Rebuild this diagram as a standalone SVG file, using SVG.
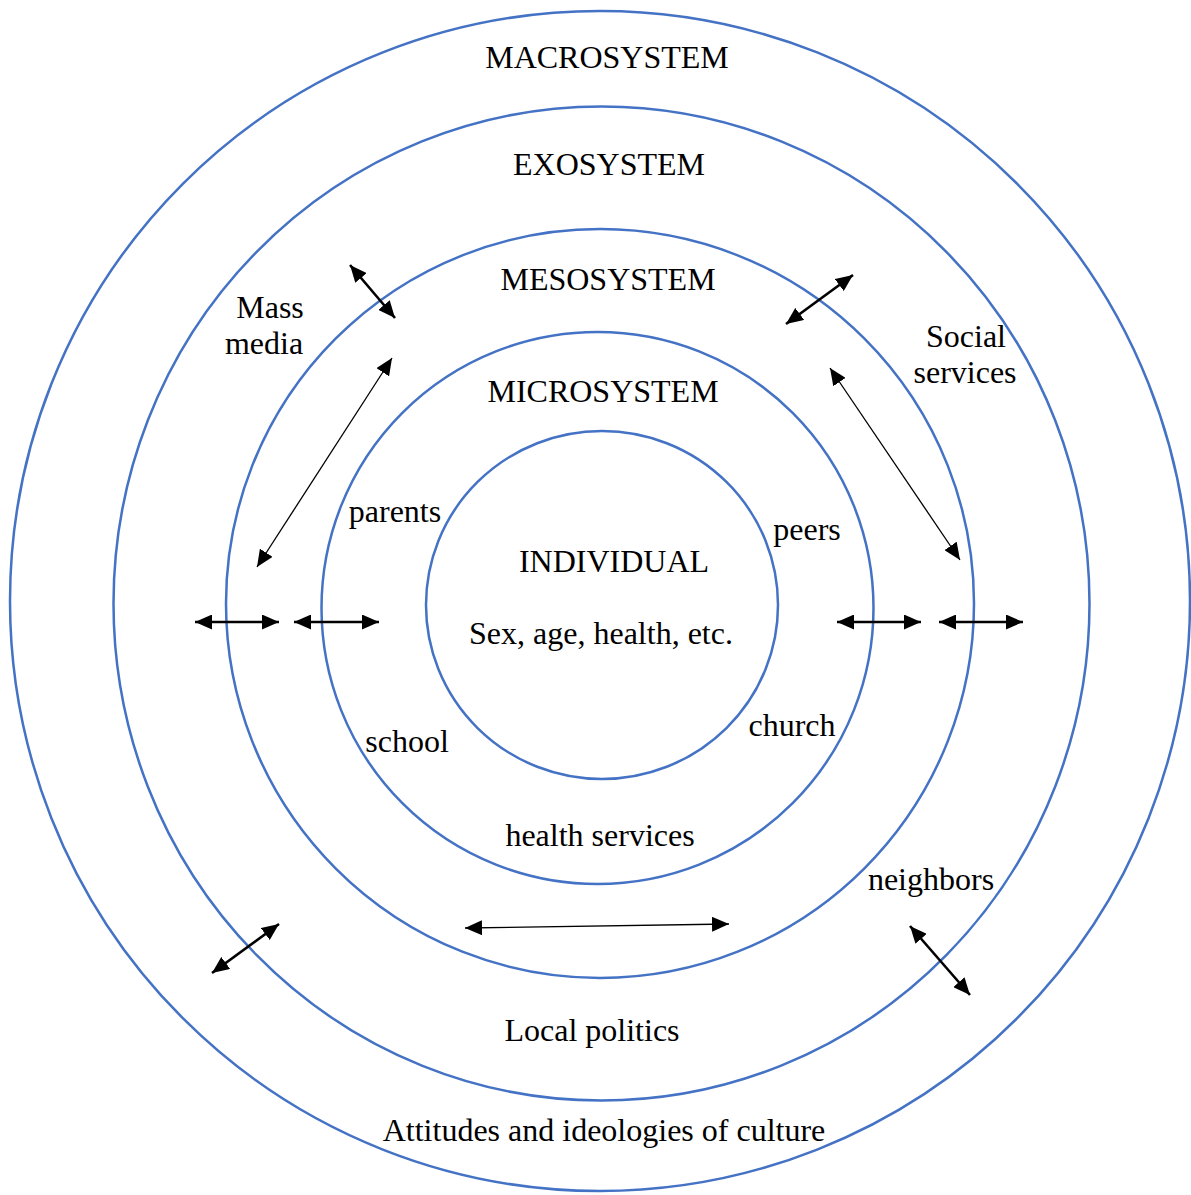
<svg xmlns="http://www.w3.org/2000/svg" width="1191" height="1195" viewBox="0 0 1191 1195">
<style>
.ring{fill:none;stroke:#4472C4;stroke-width:2.5}
text{font-family:"Liberation Serif","Times New Roman",serif;font-size:32px;fill:#000;text-anchor:middle}
.thick{stroke:#000;stroke-width:2.6;fill:none}
.thin{stroke:#000;stroke-width:1.3;fill:none}
</style>
<defs>
<marker id="ah" viewBox="0 0 17 15" refX="17" refY="7.5" markerWidth="17" markerHeight="15" markerUnits="userSpaceOnUse" orient="auto-start-reverse">
<path d="M0,0 L17,7.5 L0,15 z" fill="#000"/>
</marker>
</defs>
<rect width="1191" height="1195" fill="#fff"/>
<g id="macrosystem">
<ellipse class="ring" cx="600" cy="601" rx="590" ry="590"/>
<text x="607" y="68">MACROSYSTEM</text>
<text x="604" y="1141">Attitudes and ideologies of culture</text>
</g>
<g id="exosystem">
<ellipse class="ring" cx="601.5" cy="603.5" rx="488" ry="497"/>
<text x="609" y="175">EXOSYSTEM</text>
<text x="270" y="318">Mass</text>
<text x="264" y="354">media</text>
<text x="966" y="347">Social</text>
<text x="965" y="383">services</text>
<text x="592" y="1041">Local politics</text>
</g>
<g id="mesosystem">
<ellipse class="ring" cx="600" cy="603.5" rx="374" ry="374.5"/>
<text x="608" y="290">MESOSYSTEM</text>
<text x="931" y="890">neighbors</text>
</g>
<g id="microsystem">
<ellipse class="ring" cx="597.5" cy="608" rx="276" ry="276"/>
<text x="603" y="402">MICROSYSTEM</text>
<text x="395" y="522">parents</text>
<text x="807" y="540">peers</text>
<text x="407" y="752">school</text>
<text x="792" y="736">church</text>
<text x="600" y="846">health services</text>
</g>
<g id="individual">
<ellipse class="ring" cx="602" cy="605" rx="176" ry="174"/>
<text x="614" y="572">INDIVIDUAL</text>
<text x="601" y="644">Sex, age, health, etc.</text>
</g>
<g id="connectors">
<line class="thick" x1="195" y1="622" x2="279" y2="622" marker-start="url(#ah)" marker-end="url(#ah)"/>
<line class="thick" x1="294" y1="622" x2="379" y2="622" marker-start="url(#ah)" marker-end="url(#ah)"/>
<line class="thick" x1="837" y1="622" x2="921" y2="622" marker-start="url(#ah)" marker-end="url(#ah)"/>
<line class="thick" x1="939" y1="622" x2="1023" y2="622" marker-start="url(#ah)" marker-end="url(#ah)"/>
<line class="thick" x1="350" y1="265" x2="395" y2="318" marker-start="url(#ah)" marker-end="url(#ah)"/>
<line class="thin" x1="392" y1="358" x2="257" y2="567" marker-start="url(#ah)" marker-end="url(#ah)"/>
<line class="thick" x1="853" y1="275" x2="786" y2="324" marker-start="url(#ah)" marker-end="url(#ah)"/>
<line class="thin" x1="830" y1="368" x2="960" y2="560" marker-start="url(#ah)" marker-end="url(#ah)"/>
<line class="thick" x1="279" y1="924" x2="212" y2="973" marker-start="url(#ah)" marker-end="url(#ah)"/>
<line class="thin" x1="465" y1="928" x2="729" y2="924" marker-start="url(#ah)" marker-end="url(#ah)"/>
<line class="thick" x1="910" y1="926" x2="970" y2="995" marker-start="url(#ah)" marker-end="url(#ah)"/>
</g>
</svg>
